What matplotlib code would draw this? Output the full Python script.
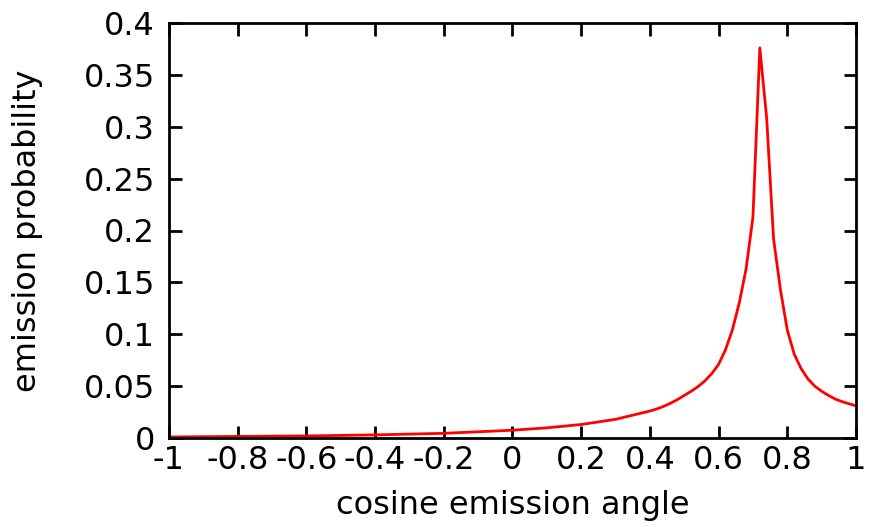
import numpy as np
import matplotlib
matplotlib.use("Agg")
import matplotlib.pyplot as plt
from matplotlib.ticker import FuncFormatter

# values
cos_angle = [-1.0, -0.8, -0.6, -0.4, -0.2, 0.0, 0.1, 0.2, 0.3, 0.4,
             0.42, 0.44, 0.46, 0.48, 0.50, 0.52, 0.54, 0.56, 0.58, 0.60,
             0.62, 0.64, 0.66, 0.68, 0.70, 0.72, 0.74, 0.76, 0.78, 0.80,
             0.82, 0.84, 0.86, 0.88, 0.90, 0.92, 0.94, 0.96, 0.98, 1.00]
probability = [0.001, 0.0015, 0.002, 0.003, 0.0045, 0.0075, 0.0098, 0.013, 0.018, 0.026,
               0.028, 0.0305, 0.0335, 0.037, 0.041, 0.045, 0.0495, 0.055, 0.062, 0.071,
               0.085, 0.104, 0.130, 0.163, 0.213, 0.376, 0.308, 0.192, 0.143, 0.104,
               0.081, 0.067, 0.057, 0.050, 0.045, 0.041, 0.0375, 0.035, 0.033, 0.031]

x_ticks = [-1, -0.8, -0.6, -0.4, -0.2, 0, 0.2, 0.4, 0.6, 0.8, 1]
y_ticks = [0, 0.05, 0.1, 0.15, 0.2, 0.25, 0.3, 0.35, 0.4]

fig = plt.figure(figsize=(8.7, 5.27), dpi=100)
ax = fig.add_axes([169 / 870, 89 / 527, 687 / 870, 415 / 527])

ax.plot(cos_angle, probability, color="red", lw=2.0)

ax.set_xlim(-1, 1)
ax.set_ylim(0, 0.4)
ax.set_xticks(x_ticks)
ax.set_yticks(y_ticks)
ax.xaxis.set_major_formatter(FuncFormatter(lambda v, p: f"{v:g}"))
ax.yaxis.set_major_formatter(FuncFormatter(lambda v, p: f"{v:g}"))

ax.tick_params(direction="in", length=9, width=2, labelsize=23,
               top=True, right=True)
ax.tick_params(axis="x", pad=5)
ax.tick_params(axis="y", pad=10)
for s in ax.spines.values():
    s.set_linewidth(2)

ax.set_xlabel("cosine emission angle", fontsize=23, labelpad=10)
ax.set_ylabel("emission probability", fontsize=23, labelpad=29)

fig.savefig("out.png", dpi=100)
